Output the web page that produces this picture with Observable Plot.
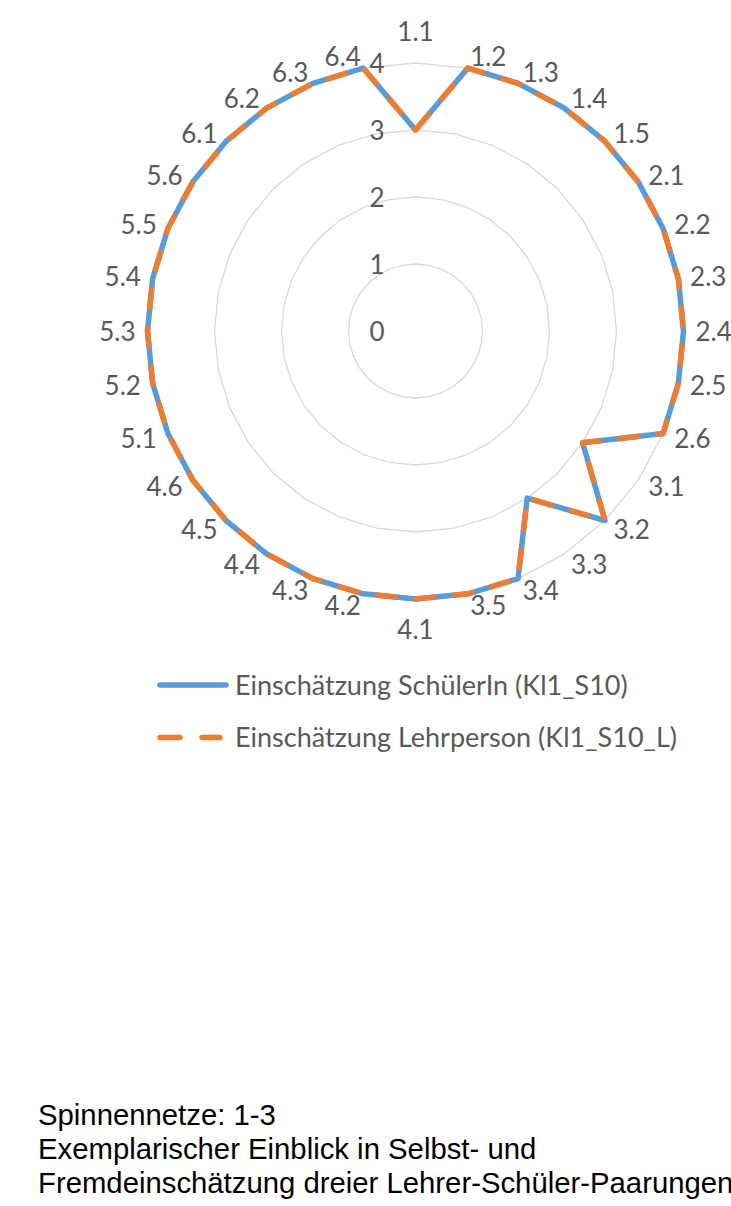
<!DOCTYPE html>
<html lang="de">
<head>
<meta charset="utf-8">
<script src="https://cdn.jsdelivr.net/npm/d3@7"></script>
<script src="https://cdn.jsdelivr.net/npm/@observablehq/plot@0.6"></script>
<style>
html,body{margin:0;padding:0;background:#fff;}
body{width:731px;height:1206px;position:relative;overflow:hidden;}
#chart{position:absolute;left:0;top:0;}
#legend{position:absolute;left:0;top:660px;}
#caption{position:absolute;left:38px;top:1098px;font-family:"Liberation Sans",Arial,sans-serif;font-size:29.3px;line-height:34px;color:#000;white-space:nowrap;}
</style>
</head>
<body>
<div id="chart"></div>
<svg id="legend" width="731" height="110"></svg>
<div id="caption"></div>
<script>
// ---- data ----
const categories = ["1.1","1.2","1.3","1.4","1.5","2.1","2.2","2.3","2.4","2.5","2.6","3.1","3.2","3.3","3.4","3.5","4.1","4.2","4.3","4.4","4.5","4.6","5.1","5.2","5.3","5.4","5.5","5.6","6.1","6.2","6.3","6.4"];
const schuelerValues = [3,4,4,4,4,4,4,4,4,4,4,3,4,3,4,4,4,4,4,4,4,4,4,4,4,4,4,4,4,4,4,4];
const lehrerValues   = [3,4,4,4,4,4,4,4,4,4,4,3,4,3,4,4,4,4,4,4,4,4,4,4,4,4,4,4,4,4,4,4];
const ringTicks = [0,1,2,3,4];
const seriesNames = ["Einschätzung SchülerIn (Kl1_S10)", "Einschätzung Lehrperson (Kl1_S10_L)"];
const seriesColors = ["#5B9BD5", "#ED7D31"];
const captionLines = ["Spinnennetze: 1-3", "Exemplarischer Einblick in Selbst- und", "Fremdeinschätzung dreier Lehrer-Schüler-Paarungen"];

// ---- derived tables ----
const n = categories.length;
const maxR = d3.max(ringTicks);
const ang = (i) => (i * 2 * Math.PI) / n;
const points = [
  ...schuelerValues.map((v, i) => ({series: seriesNames[0], i, v})),
  ...lehrerValues.map((v, i) => ({series: seriesNames[1], i, v}))
];
const rings = ringTicks.filter((t) => t > 0).flatMap((t) => categories.map((c, i) => ({t, i})));
const labels = categories.map((c, i) => ({c, i, s: Math.sin(ang(i)), co: Math.cos(ang(i))}));
const LR = maxR + 12 / 67; // label radius (value units)
const eps = 1e-6;

const px = (d) => d.v * Math.sin(ang(d.i));
const py = (d) => d.v * Math.cos(ang(d.i));
const textColor = "#595959";

const chart = Plot.plot({
  width: 731,
  height: 660,
  marginLeft: 147,
  marginRight: 48,
  marginTop: 62.5,
  marginBottom: 61.5,
  x: {domain: [-maxR, maxR], axis: null},
  y: {domain: [-maxR, maxR], axis: null},
  color: {domain: seriesNames, range: seriesColors},
  style: {fontFamily: "Lato, sans-serif", fontSize: "26px", color: textColor, background: "transparent", overflow: "visible"},
  marks: [
    Plot.line(rings, {
      x: (d) => d.t * Math.sin(ang(d.i)),
      y: (d) => d.t * Math.cos(ang(d.i)),
      z: "t", curve: "linear-closed", stroke: "#D9D9D9", strokeWidth: 1.3
    }),
    Plot.line(points, {
      filter: (d) => d.series === seriesNames[0],
      x: px, y: py, stroke: "series", curve: "linear-closed",
      strokeWidth: 5.5, strokeLinejoin: "round", strokeLinecap: "round"
    }),
    Plot.line(points, {
      filter: (d) => d.series === seriesNames[1],
      x: px, y: py, stroke: "series", curve: "linear-closed",
      strokeWidth: 5.5, strokeLinejoin: "round", strokeLinecap: "butt",
      strokeDasharray: "22,16.5"
    }),
    Plot.text(ringTicks, {x: 0, y: (d) => d, text: (d) => String(d), textAnchor: "end", dx: -31, dy: 2, fill: textColor}),
    Plot.text(labels, {filter: (d) => d.s > eps, x: (d) => LR * d.s, y: (d) => LR * d.co, text: "c", textAnchor: "start", dy: 1.5, fill: textColor}),
    Plot.text(labels, {filter: (d) => d.s < -eps, x: (d) => LR * d.s, y: (d) => LR * d.co, text: "c", textAnchor: "end", dy: 1.5, fill: textColor}),
    Plot.text(labels, {filter: (d) => Math.abs(d.s) <= eps && d.co > 0, x: 0, y: (d) => LR * d.co, text: "c", lineAnchor: "bottom", dy: -10, fill: textColor}),
    Plot.text(labels, {filter: (d) => Math.abs(d.s) <= eps && d.co < 0, x: 0, y: (d) => LR * d.co, text: "c", lineAnchor: "top", dy: 9.5, fill: textColor})
  ]
});
document.getElementById("chart").appendChild(chart);

// ---- legend ----
const leg = d3.select("#legend");
const rowsY = [25, 77.5];
seriesNames.forEach((name, k) => {
  const y = rowsY[k];
  if (k === 0) {
    leg.append("line").attr("x1", 160).attr("x2", 226).attr("y1", y).attr("y2", y)
      .attr("stroke", seriesColors[k]).attr("stroke-width", 5.5).attr("stroke-linecap", "round");
  } else {
    leg.append("line").attr("x1", 160).attr("x2", 220).attr("y1", y).attr("y2", y)
      .attr("stroke", seriesColors[k]).attr("stroke-width", 5.5).attr("stroke-linecap", "round")
      .attr("stroke-dasharray", "20,22");
  }
  leg.append("text").attr("x", 235).attr("y", y + 9.5)
    .attr("font-family", "Lato, sans-serif").attr("font-size", 27).attr("fill", textColor)
    .text(name);
});

// ---- caption ----
document.getElementById("caption").innerHTML = captionLines.map((l) => l.replace(/&/g, "&amp;").replace(/</g, "&lt;")).join("<br>");
</script>
</body>
</html>
